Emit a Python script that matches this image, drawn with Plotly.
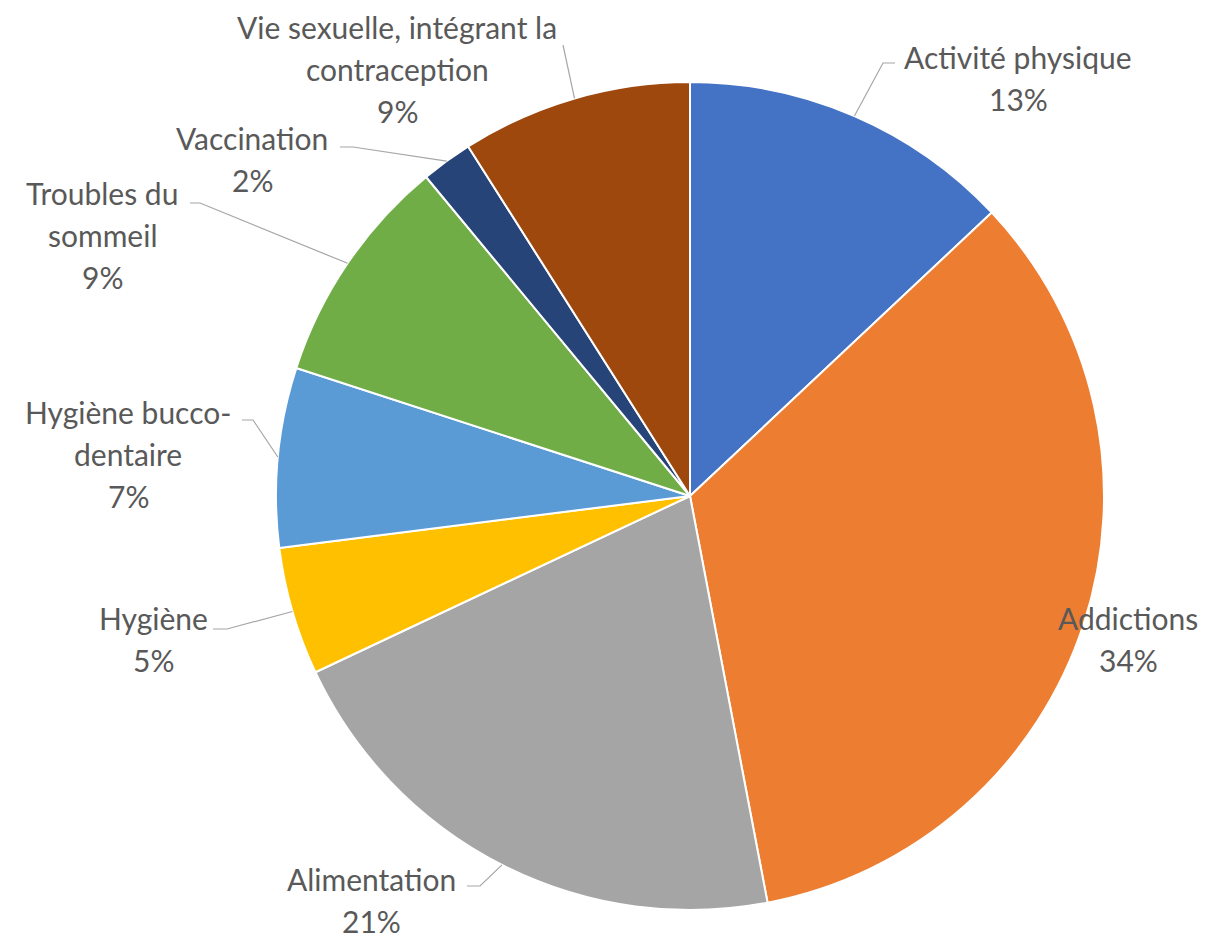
import math
import plotly.graph_objects as go

# ---- data ----
categories = ["Activité physique", "Addictions", "Alimentation", "Hygiène",
              "Hygiène bucco-dentaire", "Troubles du sommeil", "Vaccination",
              "Vie sexuelle, intégrant la contraception"]
values = [13, 34, 21, 5, 7, 9, 2, 9]
label_lines = [["Activité physique"], ["Addictions"], ["Alimentation"], ["Hygiène"],
               ["Hygiène bucco-", "dentaire"], ["Troubles du", "sommeil"], ["Vaccination"],
               ["Vie sexuelle, intégrant la", "contraception"]]
colors = ["#4472C4", "#ED7D31", "#A5A5A5", "#FFC000", "#5B9BD5", "#70AD47", "#264478", "#9E480E"]

# ---- layout geometry (screen pixels) ----
W, H = 1212, 937
OFF = 8  # page body margin
CX, CY, R = 690, 496, 414
label_pos = [(1018, 57), (1128, 618), (371, 879), (153, 618),
             (128, 412), (102, 193), (252, 138), (397, 27)]
leaders = [((883, 63), (895, 63)), None, ((480, 886), (467, 886)),
           ((227, 629), (213, 629)), ((253, 420), (242, 420)),
           ((200, 203), (190, 203)), ((353, 147), (340, 147)),
           ((563, 45), (563, 45))]
LINE_H = 42
TEXT_COLOR = "#595959"
FONT = "Lato"
FS = 30

def px(x):
    return (x - OFF) / W

def py(y):
    return 1 - (y - OFF) / H

fig = go.Figure(go.Pie(
    labels=categories, values=values, sort=False, direction="clockwise", rotation=0,
    marker=dict(colors=colors, line=dict(color="white", width=2)),
    textinfo="none", hoverinfo="label+percent", showlegend=False,
    domain=dict(x=[px(CX - R), px(CX + R)], y=[py(CY + R), py(CY - R)]),
))

total = sum(values)
annotations = []
shapes = []
cum = 0
for i, v in enumerate(values):
    mid = (cum + v / 2) / total * 2 * math.pi
    cum += v
    pct = f"{round(v / total * 100)}%"
    lines = label_lines[i] + [pct]
    lx, ly = label_pos[i]
    for j, t in enumerate(lines):
        annotations.append(dict(
            x=px(lx), y=py(ly + j * LINE_H), xref="paper", yref="paper",
            text=t, showarrow=False, xanchor="center", yanchor="middle",
            borderpad=0,
            font=dict(family=FONT, size=FS, color=TEXT_COLOR)))
    if leaders[i] is not None:
        sx = CX + R * math.sin(mid)
        sy = CY - R * math.cos(mid)
        (ex, ey), (fx, fy) = leaders[i]
        path = f"M {px(sx)},{py(sy)} L {px(ex)},{py(ey)} L {px(fx)},{py(fy)}"
        shapes.append(dict(type="path", xref="paper", yref="paper", path=path,
                           line=dict(color="#A6A6A6", width=1.2)))

fig.update_layout(
    width=W, height=H, margin=dict(l=0, r=0, t=0, b=0),
    paper_bgcolor="white", plot_bgcolor="white",
    annotations=annotations, shapes=shapes,
)
fig.write_html("out.html")
